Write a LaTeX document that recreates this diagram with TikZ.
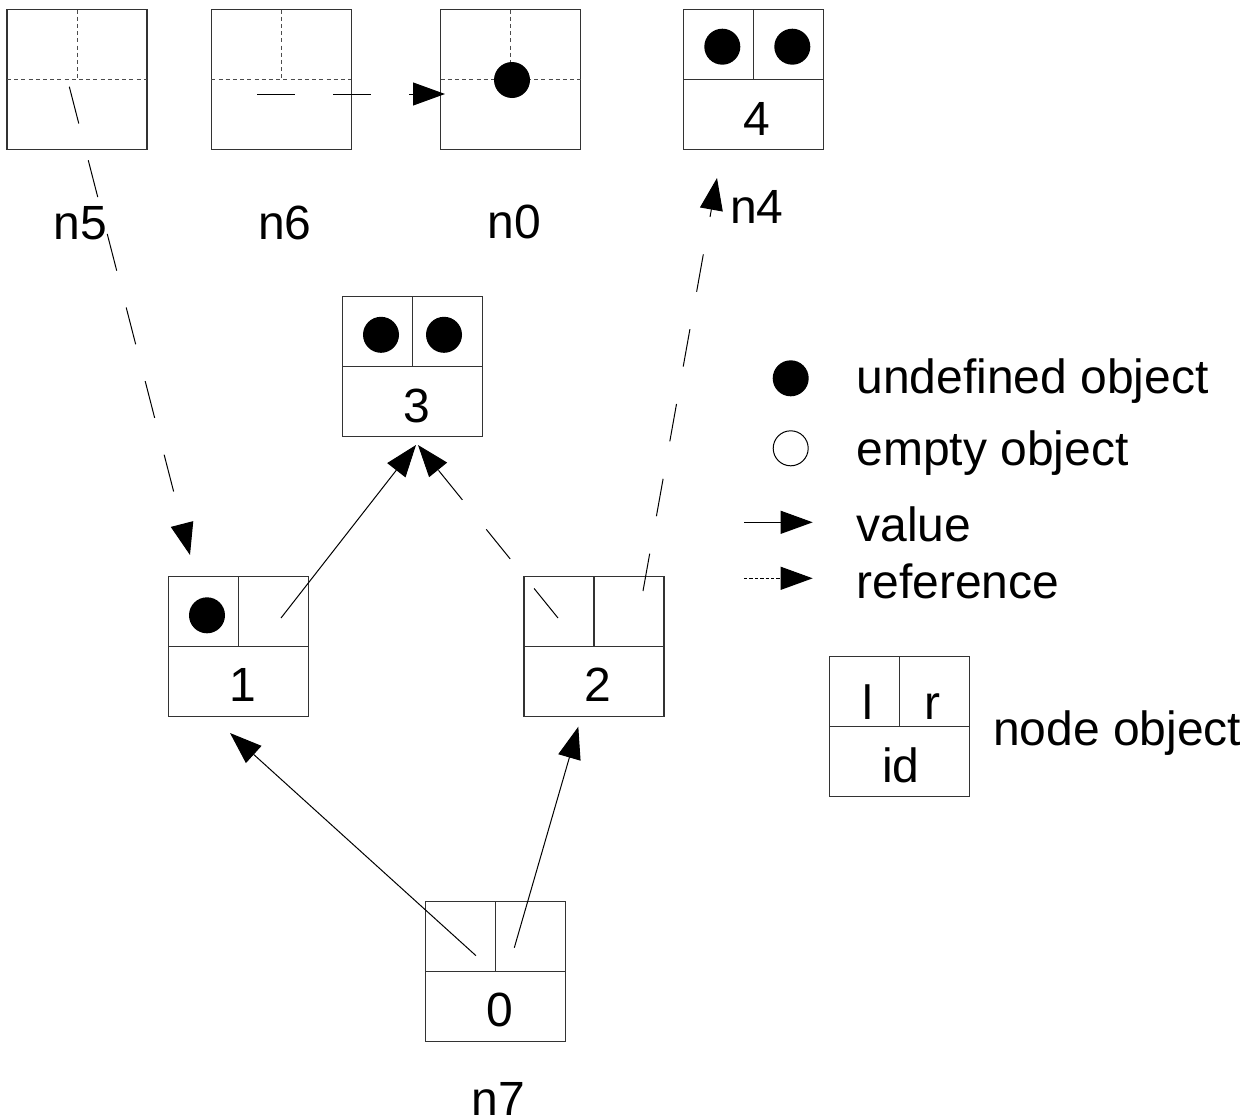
\documentclass[tikz,border=0pt]{standalone}
\usepackage{fontspec}
\setmainfont{Liberation Sans}
\usetikzlibrary{arrows.meta}
\begin{document}
\begin{tikzpicture}[x=0.5pt,y=-0.5pt,
  objbox/.style={draw=black!80, line width=0.6pt, minimum width=70pt, minimum height=70pt, inner sep=0pt, outer sep=0pt},
  solidsplit/.style={draw=black!80, line width=0.6pt},
  dashsplit/.style={draw=black!70, line width=0.5pt, dash pattern=on 2pt off 1.6pt},
  dot/.style={circle, fill=black, minimum size=18pt, inner sep=0pt, outer sep=0pt},
  hollowdot/.style={circle, draw=black, line width=0.5pt, fill=white, minimum size=17.5pt, inner sep=0pt, outer sep=0pt},
  txt/.style={font=\fontsize{24}{28}\selectfont, inner sep=0pt, anchor=base},
  ltxt/.style={txt, anchor=base west},
  valarrow/.style={draw=black, line width=0.5pt, -{Triangle[length=16pt,width=11.5pt]}},
  refarrow/.style={valarrow, dash pattern=on 19pt off 19pt},
  legref/.style={valarrow, dash pattern=on 1.7pt off 1pt}
]
\useasboundingbox (0,0) rectangle (1257,1119);

% ---------- top row: n5, n6, n0 (dashed cells), n4 ----------
\node[objbox] (n5) at (77,79.5) {};
\draw[dashsplit] (n5.north) -- (n5.center);
\draw[dashsplit] (n5.west) -- (n5.east);

\node[objbox] (n6) at (281.3,79.5) {};
\draw[dashsplit] (n6.north) -- (n6.center);
\draw[dashsplit] (n6.west) -- (n6.east);

\node[objbox] (n0) at (510.5,79.5) {};
\draw[dashsplit] (n0.north) -- (n0.center);
\draw[dashsplit] (n0.west) -- (n0.east);
\node[dot] (n0dot) at (512,80) {};

\node[objbox] (n4) at (753.3,79.5) {};
\draw[solidsplit] (n4.north) -- (n4.center);
\draw[solidsplit] (n4.west) -- (n4.east);
\node[dot] (n4l) at (722.3,46.7) {};
\node[dot] (n4r) at (792.3,46.7) {};
\node[txt] (n4id) at (757,135) {4};

\node[txt] (ln5) at (80.5,239) {n5};
\node[txt] (ln6) at (284.7,239) {n6};
\node[txt] (ln0) at (514,238.5) {n0};
\node[txt] (ln4) at (756.7,223.3) {n4};

% ---------- box 3 ----------
\node[objbox] (b3) at (412.5,366.3) {};
\draw[solidsplit] (b3.north) -- (b3.center);
\draw[solidsplit] (b3.west) -- (b3.east);
\node[dot] (b3l) at (381,334.8) {};
\node[dot] (b3r) at (444,334.8) {};
\node[txt] (b3id) at (416.7,422) {3};

% ---------- box 1 ----------
\node[objbox] (b1) at (238.5,646.5) {};
\draw[solidsplit] (b1.north) -- (b1.center);
\draw[solidsplit] (b1.west) -- (b1.east);
\node[dot] (b1l) at (207,615.3) {};
\node[txt] (b1id) at (243,701) {1};

% ---------- box 2 ----------
\node[objbox] (b2) at (594,646.5) {};
\draw[solidsplit] (b2.north) -- (b2.center);
\draw[solidsplit] (b2.west) -- (b2.east);
\node[txt] (b2id) at (598,701) {2};

% ---------- box 0 ----------
\node[objbox] (b0) at (495.5,971.8) {};
\draw[solidsplit] (b0.north) -- (b0.center);
\draw[solidsplit] (b0.west) -- (b0.east);
\node[txt] (b0id) at (499.5,1026.7) {0};
\node[txt] (ln7) at (498,1115) {n7};

% ---------- connector end points ----------
\coordinate (s5) at (69.3,86.7);   \coordinate (t5) at (190,555);
\coordinate (s6) at (257,94);      \coordinate (t6) at (445,94);
\coordinate (s1r) at (281,618);    \coordinate (t1r) at (416,445);
\coordinate (s2l) at (558,618);    \coordinate (t2l) at (418,445);
\coordinate (s2r) at (643,591);    \coordinate (t2r) at (717,178);
\coordinate (s0l) at (476,955.7);  \coordinate (t0l) at (230,733);
\coordinate (s0r) at (514.3,947.7); \coordinate (t0r) at (578.3,726.7);

\draw[refarrow] (s5) -- (t5);
\draw[refarrow] (s6) -- (t6);
\draw[valarrow] (s1r) -- (t1r);
\draw[refarrow] (s2l) -- (t2l);
\draw[refarrow] (s2r) -- (t2r);
\draw[valarrow] (s0l) -- (t0l);
\draw[valarrow] (s0r) -- (t0r);

% ---------- legend ----------
\node[dot] (lgdot) at (790.7,378.3) {};
\node[ltxt] (lgundef) at (856,393.3) {undefined object};
\node[hollowdot] (lgempty) at (790.7,448.3) {};
\node[ltxt] (lgemptyt) at (856,465) {empty object};
\coordinate (lgvs) at (744,522.3); \coordinate (lgvt) at (812.7,522.3);
\draw[valarrow] (lgvs) -- (lgvt);
\node[ltxt] (lgval) at (856,541.7) {value};
\coordinate (lgrs) at (744,578.3); \coordinate (lgrt) at (812.7,578.3);
\draw[legref] (lgrs) -- (lgrt);
\node[ltxt] (lgref) at (856,598.3) {reference};

\node[objbox] (lgbox) at (899.2,726.2) {};
\draw[solidsplit] (lgbox.north) -- (lgbox.center);
\draw[solidsplit] (lgbox.west) -- (lgbox.east);
\node[txt] (lgl) at (867.7,719.3) {l};
\node[txt] (lgr) at (932,719.3) {r};
\node[txt] (lgid) at (901,782) {id};
\node[ltxt] (lgnode) at (992.7,745) {node object};
\end{tikzpicture}
\end{document}
